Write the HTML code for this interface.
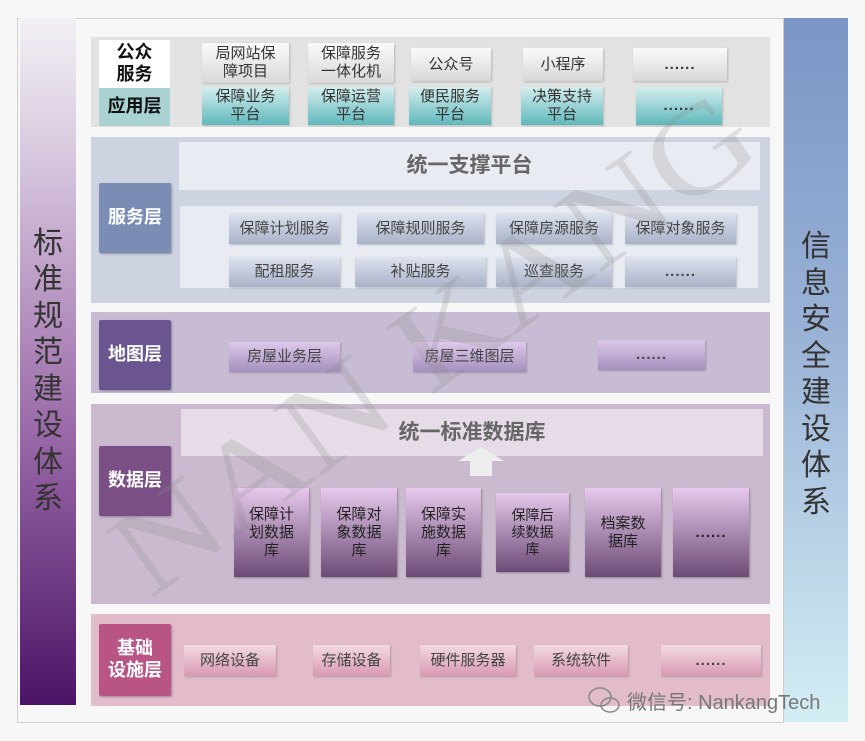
<!DOCTYPE html>
<html><head><meta charset="utf-8"><style>
body{margin:0;width:865px;height:741px;background:#f7f7f7;position:relative;overflow:hidden;font-family:"Liberation Sans","Noto Sans CJK SC",sans-serif}
div{position:absolute;box-sizing:border-box}
.c{display:flex;align-items:center;justify-content:center;text-align:center;line-height:1.2}
.lbl{color:#fff;font-weight:bold;font-size:18px;border-radius:2px;box-shadow:1px 1px 2px rgba(0,0,0,.3)}
.g{background:linear-gradient(#fafafa,#d8d8d8);font-size:15px;color:#333;box-shadow:1px 1px 2px rgba(0,0,0,.2)}
.t{background:linear-gradient(#d5eeee,#5fb8bc);font-size:15px;color:#333;box-shadow:1px 1px 2px rgba(0,0,0,.2)}
.s{background:linear-gradient(#dde2ee,#a9b2c8);font-size:15px;color:#444;box-shadow:1px 1px 2px rgba(0,0,0,.2)}
.m{background:linear-gradient(#ddc9ea,#a58fbd);font-size:15px;color:#444;box-shadow:1px 1px 2px rgba(0,0,0,.2)}
.d{background:linear-gradient(#e6c9ec,#6c4b76);font-size:15px;color:#222;box-shadow:1px 1px 2px rgba(0,0,0,.3)}
.i{background:linear-gradient(#f2d9e2,#d99ab4);font-size:15px;color:#444;box-shadow:1px 1px 2px rgba(0,0,0,.2)}
.dots{font-weight:bold;letter-spacing:1px}
</style></head><body>
<div style="left:17px;top:18px;width:767px;height:705px;border:1px solid #cfcfcf;background:#f7f7f7"></div>
<div class="c" style="left:20px;top:18px;width:56px;height:687px;background:linear-gradient(#f2f0f4,#d8c8df 20%,#9a6aa8 60%,#4c1466);font-size:30px;color:#333;line-height:36.5px;padding-top:20px"><span style="width:32px">标准规范建设体系</span></div>
<div class="c" style="left:784px;top:18px;width:64px;height:704px;background:linear-gradient(#7b96c6,#9ab2d6 45%,#d3eef4);font-size:30px;color:#333;line-height:36.5px;padding-top:10px"><span style="width:32px">信息安全建设体系</span></div>

<!-- app -->
<div style="left:91px;top:37px;width:679px;height:90px;background:#e2e2e2"></div>
<div class="c" style="left:99px;top:40px;width:71px;height:48px;background:#fff;font-weight:bold;font-size:18px;color:#111">公众<br>服务</div>
<div class="c" style="left:99px;top:88px;width:71px;height:38px;background:#a9d3d3;font-weight:bold;font-size:18px;color:#111">应用层</div>
<div class="c g" style="left:202px;top:43px;width:87px;height:40px">局网站保<br>障项目</div>
<div class="c g" style="left:308px;top:43px;width:86px;height:40px">保障服务<br>一体化机</div>
<div class="c g" style="left:411px;top:48px;width:80px;height:33px">公众号</div>
<div class="c g" style="left:523px;top:48px;width:80px;height:33px">小程序</div>
<div class="c g dots" style="left:633px;top:48px;width:94px;height:33px">......</div>
<div class="c t" style="left:202px;top:87px;width:87px;height:38px">保障业务<br>平台</div>
<div class="c t" style="left:308px;top:87px;width:86px;height:38px">保障运营<br>平台</div>
<div class="c t" style="left:409px;top:87px;width:82px;height:38px">便民服务<br>平台</div>
<div class="c t" style="left:521px;top:87px;width:82px;height:38px">决策支持<br>平台</div>
<div class="c t dots" style="left:636px;top:87px;width:86px;height:38px">......</div>

<!-- service -->
<div style="left:91px;top:137px;width:679px;height:166px;background:#cdd3e0"></div>
<div class="c lbl" style="left:99px;top:183px;width:72px;height:70px;background:#7b8db5">服务层</div>
<div class="c" style="left:179px;top:142px;width:581px;height:48px;background:#e8ebf2;font-size:21px;font-weight:bold;color:#666">统一支撑平台</div>
<div style="left:180px;top:206px;width:578px;height:82px;background:#e8ebf2"></div>
<div class="c s" style="left:229px;top:213px;width:111px;height:31px">保障计划服务</div>
<div class="c s" style="left:357px;top:213px;width:127px;height:31px">保障规则服务</div>
<div class="c s" style="left:496px;top:213px;width:116px;height:31px">保障房源服务</div>
<div class="c s" style="left:625px;top:213px;width:111px;height:31px">保障对象服务</div>
<div class="c s" style="left:229px;top:257px;width:111px;height:30px">配租服务</div>
<div class="c s" style="left:355px;top:257px;width:131px;height:30px">补贴服务</div>
<div class="c s" style="left:496px;top:257px;width:116px;height:30px">巡查服务</div>
<div class="c s dots" style="left:625px;top:257px;width:111px;height:30px">......</div>

<!-- map -->
<div style="left:91px;top:312px;width:679px;height:81px;background:#c7bcd3"></div>
<div class="c lbl" style="left:99px;top:320px;width:72px;height:70px;background:#6b5590">地图层</div>
<div class="c m" style="left:229px;top:342px;width:111px;height:30px">房屋业务层</div>
<div class="c m" style="left:413px;top:342px;width:113px;height:30px">房屋三维图层</div>
<div class="c m dots" style="left:598px;top:340px;width:107px;height:30px">......</div>

<!-- data -->
<div style="left:91px;top:404px;width:679px;height:200px;background:#cbbacf"></div>
<div class="c lbl" style="left:99px;top:446px;width:72px;height:70px;background:#7a4f86">数据层</div>
<div class="c" style="left:181px;top:409px;width:582px;height:47px;background:#e6dce7;font-size:21px;font-weight:bold;color:#666">统一标准数据库</div>
<div style="left:458px;top:447px;width:0;height:0;border-left:23px solid transparent;border-right:23px solid transparent;border-bottom:14px solid #eee"></div>
<div style="left:470px;top:460px;width:22px;height:16px;background:#eee"></div>
<div class="c d" style="left:234px;top:488px;width:75px;height:89px">保障计<br>划数据<br>库</div>
<div class="c d" style="left:321px;top:488px;width:76px;height:89px">保障对<br>象数据<br>库</div>
<div class="c d" style="left:406px;top:488px;width:75px;height:89px">保障实<br>施数据<br>库</div>
<div class="c d" style="left:496px;top:493px;width:73px;height:79px;font-size:14px">保障后<br>续数据<br>库</div>
<div class="c d" style="left:585px;top:488px;width:76px;height:89px">档案数<br>据库</div>
<div class="c d dots" style="left:673px;top:488px;width:76px;height:89px">......</div>

<!-- infra -->
<div style="left:91px;top:614px;width:679px;height:92px;background:#e2bccb"></div>
<div class="c lbl" style="left:99px;top:624px;width:72px;height:72px;background:#b85585">基础<br>设施层</div>
<div class="c i" style="left:184px;top:645px;width:92px;height:31px">网络设备</div>
<div class="c i" style="left:313px;top:645px;width:77px;height:31px">存储设备</div>
<div class="c i" style="left:420px;top:645px;width:96px;height:31px">硬件服务器</div>
<div class="c i" style="left:534px;top:645px;width:94px;height:31px">系统软件</div>
<div class="c i dots" style="left:661px;top:645px;width:100px;height:31px">......</div>

<svg style="position:absolute;left:0;top:0" width="865" height="741">
<text x="0" y="0" transform="translate(150,600) rotate(-36)" font-family="Liberation Serif,serif" font-size="125" fill="#8a8a8a" opacity="0.22" textLength="760" lengthAdjust="spacingAndGlyphs">NAN KANG</text>
<g fill="none" stroke="#888" stroke-width="1.5"><ellipse cx="600" cy="697" rx="11" ry="9"/><ellipse cx="610" cy="705" rx="9" ry="7"/></g>
<text x="627" y="709" font-family="Liberation Sans,Noto Sans CJK SC,sans-serif" font-size="20" fill="#777">微信号: NankangTech</text>
</svg>
</body></html>
